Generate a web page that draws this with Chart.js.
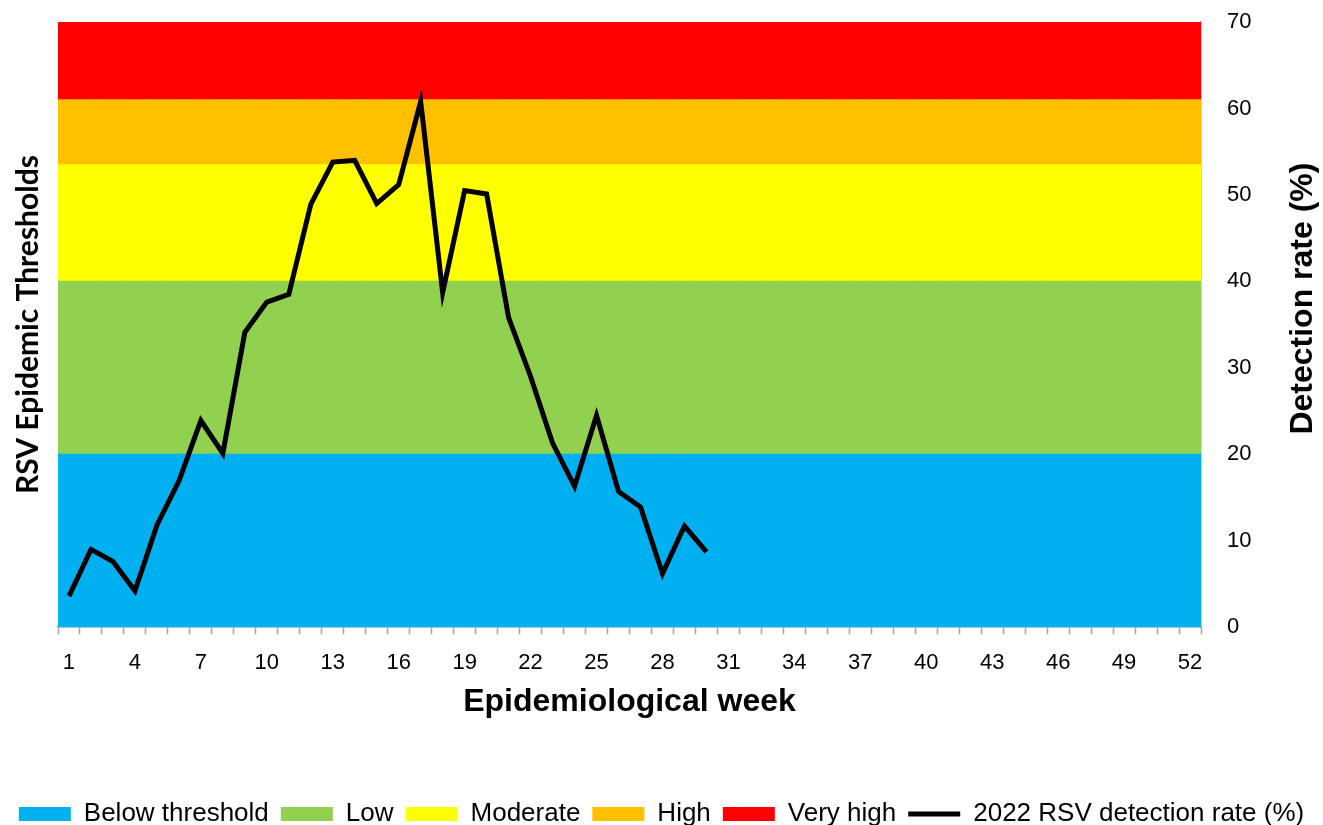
<!DOCTYPE html>
<html>
<head>
<meta charset="utf-8">
<script src="https://cdn.jsdelivr.net/npm/chart.js@4"></script>
<style>
  html, body { margin: 0; padding: 0; background: #fff; }
  #wrap { width: 1323px; height: 825px; }
</style>
</head>
<body>
<div id="wrap"><canvas id="rsv"></canvas></div>
<script>
// weeks 1..52
const weeks = [];
for (let w = 1; w <= 52; w++) weeks.push(String(w));

// threshold bands (detection rate %)
const bandNames = ['Below threshold', 'Low', 'Moderate', 'High', 'Very high'];
const bandLower = [0, 20, 40, 53.5, 61];
const bandUpper = [20, 40, 53.5, 61, 70];
const bandColors = ['#00B0F0', '#92D050', '#FFFF00', '#FFC000', '#FF0000'];

// 2022 RSV detection rate (%), weeks 1-30
const rate2022 = [3.6, 9.0, 7.6, 4.2, 11.8, 16.9, 23.9, 20.1, 34.1, 37.6,
                  38.5, 48.9, 53.8, 54.0, 49.0, 51.2, 60.8, 38.7, 50.5, 50.1,
                  35.8, 29.0, 21.3, 16.3, 24.5, 15.7, 13.9, 6.2, 11.7, 8.7];

const yTicks = [0, 10, 20, 30, 40, 50, 60, 70];

const datasets = bandNames.map((name, i) => ({
    type: 'bar',
    label: name,
    data: weeks.map(() => bandUpper[i] - bandLower[i]),
    backgroundColor: bandColors[i],
    borderWidth: 0,
    barPercentage: 1,
    categoryPercentage: 1,
    inflateAmount: 0.5,
    stack: 'bands',
    yAxisID: 'yBand',
    pointStyle: 'rect',
    order: 1
}));

datasets.push({
    type: 'line',
    label: '2022 RSV detection rate (%)',
    data: weeks.map((w, i) => i < rate2022.length ? rate2022[i] : null),
    borderColor: '#000',
    backgroundColor: '#000',
    borderWidth: 5,
    pointRadius: 0,
    tension: 0,
    yAxisID: 'y',
    pointStyle: 'line',
    order: 0
});

// right axis title reads bottom-to-top
const rightTitle = {
    id: 'rightTitle',
    afterDraw(chart) {
        const s = chart.scales.y;
        const c = chart.ctx;
        c.save();
        c.translate(1303, (s.top + s.bottom) / 2 - 26);
        c.rotate(-Math.PI / 2);
        c.font = 'bold 32px "Liberation Sans", Arial, sans-serif';
        c.fillStyle = '#000';
        c.textAlign = 'center';
        c.textBaseline = 'middle';
        c.fillText('Detection rate (%)', 0, 0);
        c.restore();
    }
};

new Chart(document.getElementById('rsv'), {
    data: { labels: weeks, datasets: datasets },
    plugins: [rightTitle],
    options: {
        responsive: true,
        maintainAspectRatio: false,
        animation: false,
        layout: { padding: { top: 0, bottom: -12, left: 0, right: 0 } },
        plugins: {
            tooltip: { enabled: false },
            legend: {
                position: 'bottom',
                labels: {
                    usePointStyle: true,
                    pointStyleWidth: 52,
                    boxHeight: 14,
                    padding: 12,
                    color: '#000',
                    font: { family: '"Liberation Sans", Arial, sans-serif', size: 26, lineHeight: 1 },
                    sort: (a, b) => a.datasetIndex - b.datasetIndex
                }
            }
        },
        scales: {
            x: {
                offset: true,
                grid: { offset: true, drawOnChartArea: false, tickLength: 7, color: '#A6A6A6', tickWidth: 1.5 },
                border: { color: '#A6A6A6', width: 1.5 },
                ticks: {
                    autoSkip: false,
                    maxRotation: 0,
                    color: '#000',
                    padding: 16,
                    font: { family: '"Liberation Sans", Arial, sans-serif', size: 22 },
                    callback: (v, i) => (i % 3 === 0 ? weeks[i] : '')
                },
                title: {
                    display: true,
                    text: 'Epidemiological week',
                    color: '#000',
                    font: { family: '"Liberation Sans", Arial, sans-serif', size: 32, weight: 'bold' },
                    padding: { top: -10, bottom: 68 }
                }
            },
            yBand: {
                position: 'left',
                stacked: true,
                min: 0,
                max: 70,
                grid: { display: false },
                border: { display: false },
                ticks: { display: false },
                title: {
                    display: true,
                    text: 'RSV Epidemic Thresholds',
                    color: '#000',
                    font: { family: 'Lato, "Open Sans", sans-serif', size: 30, weight: 'bold' },
                    padding: { top: 10, bottom: 10 }
                },
                afterFit: s => { s.width = 58; }
            },
            y: {
                position: 'right',
                min: 0,
                max: 70,
                afterBuildTicks: s => { s.ticks = yTicks.map(v => ({ value: v })); },
                grid: { display: false, drawTicks: false },
                border: { color: '#A6A6A6', width: 1.5 },
                ticks: {
                    color: '#000',
                    padding: 26,
                    font: { family: '"Liberation Sans", Arial, sans-serif', size: 22 }
                },
                afterFit: s => { s.width = 122; s.paddingTop = 22; s.paddingBottom = 0; }
            }
        }
    }
});
</script>
</body>
</html>
